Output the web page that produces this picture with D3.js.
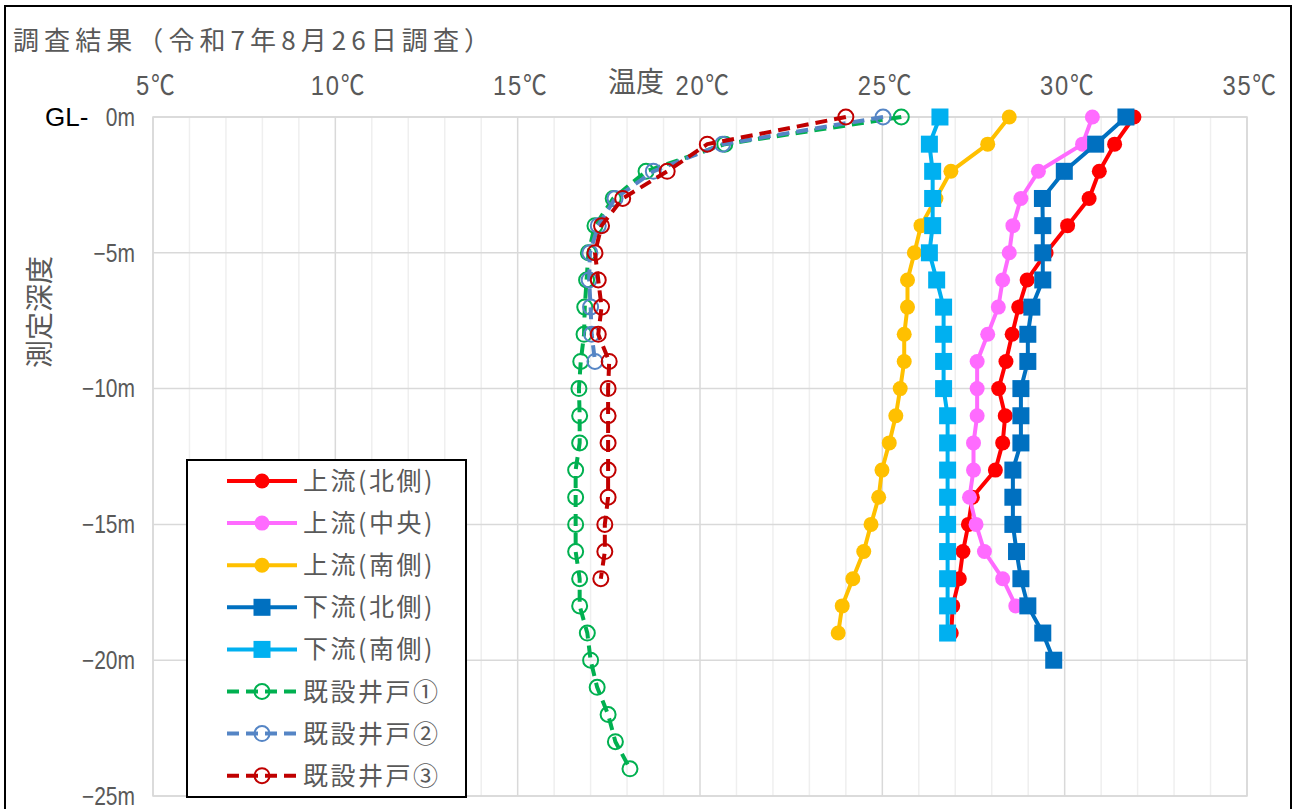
<!DOCTYPE html>
<html lang="ja">
<head>
<meta charset="utf-8">
<script src="https://cdn.jsdelivr.net/npm/d3@7"></script>
<style>
  html, body { margin: 0; padding: 0; background: #fff; }
  svg { display: block; }
  text { font-family: "Noto Sans CJK JP", "Noto Sans", sans-serif; }
  .num { font-family: "Liberation Sans", "Noto Sans CJK JP", sans-serif; }
</style>
</head>
<body>
<svg id="chart" width="1297" height="809"></svg>
<script>
// Temperature profiles, one value per metre of depth starting at GL-0m
const upNorth   = [31.9, 31.37, 30.95, 30.67, 30.08, 29.49, 28.97, 28.74, 28.56, 28.39, 28.19, 28.37, 28.30, 28.10, 27.47, 27.36, 27.21, 27.11, 26.93, 26.89];
const upCenter  = [30.76, 30.49, 29.28, 28.80, 28.58, 28.48, 28.30, 28.18, 27.89, 27.60, 27.60, 27.60, 27.50, 27.50, 27.39, 27.57, 27.80, 28.30, 28.66];
const upSouth   = [28.48, 27.89, 26.88, 26.47, 26.06, 25.88, 25.69, 25.69, 25.60, 25.60, 25.49, 25.37, 25.19, 24.99, 24.90, 24.69, 24.49, 24.19, 23.90, 23.79];
const downNorth = [31.68, 30.85, 29.99, 29.39, 29.40, 29.40, 29.40, 29.10, 28.99, 28.99, 28.80, 28.80, 28.80, 28.58, 28.58, 28.58, 28.68, 28.80, 28.99, 29.40, 29.70];
const downSouth = [26.58, 26.29, 26.38, 26.38, 26.38, 26.29, 26.49, 26.68, 26.68, 26.68, 26.68, 26.79, 26.79, 26.79, 26.79, 26.79, 26.79, 26.79, 26.79, 26.79];
const well1     = [25.52, 20.68, 18.52, 17.62, 17.12, 16.94, 16.89, 16.84, 16.82, 16.73, 16.68, 16.70, 16.70, 16.59, 16.59, 16.59, 16.59, 16.70, 16.70, 16.91, 17.00, 17.18, 17.48, 17.68, 18.08];
const well2     = [25.02, 20.62, 18.72, 17.67, 17.21, 16.98, 16.96, 17.00, 17.03, 17.12];
const well3     = [24.00, 20.20, 19.10, 17.88, 17.30, 17.12, 17.21, 17.30, 17.21, 17.51, 17.48, 17.48, 17.48, 17.48, 17.48, 17.39, 17.39, 17.28];

const seriesNames = ["上流(北側)", "上流(中央)", "上流(南側)", "下流(北側)", "下流(南側)", "既設井戸①", "既設井戸②", "既設井戸③"];
const tempTicks = [5, 10, 15, 20, 25, 30, 35];
const depthTicks = [0, -5, -10, -15, -20, -25];

const series = [
  { name: seriesNames[0], values: upNorth,   color: "#FF0000", marker: "circle", dashed: false },
  { name: seriesNames[1], values: upCenter,  color: "#FF6BFF", marker: "circle", dashed: false },
  { name: seriesNames[2], values: upSouth,   color: "#FFC000", marker: "circle", dashed: false },
  { name: seriesNames[3], values: downNorth, color: "#0070C0", marker: "square", dashed: false },
  { name: seriesNames[4], values: downSouth, color: "#00B0F0", marker: "square", dashed: false },
  { name: seriesNames[5], values: well1,     color: "#00B050", marker: "ring",   dashed: true },
  { name: seriesNames[6], values: well2,     color: "#5585C5", marker: "ring",   dashed: true },
  { name: seriesNames[7], values: well3,     color: "#C00000", marker: "ring",   dashed: true }
];

const svg = d3.select("#chart");
const plot = { left: 153, right: 1247, top: 117, bottom: 796 };

const x = d3.scaleLinear().domain([5, 35]).range([plot.left, plot.right]);
const y = d3.scaleLinear().domain([0, -25]).range([plot.top, plot.bottom]);

// Outer frame
svg.append("rect")
  .attr("x", 5).attr("y", 6).attr("width", 1286).attr("height", 830)
  .attr("fill", "#fff").attr("stroke", "#000").attr("stroke-width", 2);

// Title
svg.append("text")
  .attr("x", 13).attr("y", 50)
  .attr("font-size", 26).attr("fill", "#595959")
  .attr("textLength", 477).attr("lengthAdjust", "spacing")
  .text("調査結果（令和7年8月26日調査）");

// Grid: minor vertical lines every 1℃, major every 5℃, horizontal every 5m
const grid = svg.append("g");
grid.selectAll("line.minor")
  .data(d3.range(6, 35).filter(t => t % 5 !== 0))
  .join("line")
  .attr("x1", d => x(d)).attr("x2", d => x(d))
  .attr("y1", plot.top).attr("y2", plot.bottom)
  .attr("stroke", "#efefef").attr("stroke-width", 1.5);
grid.selectAll("line.vmajor")
  .data(tempTicks)
  .join("line")
  .attr("x1", d => x(d)).attr("x2", d => x(d))
  .attr("y1", plot.top).attr("y2", plot.bottom)
  .attr("stroke", "#d9d9d9").attr("stroke-width", 1.5);
grid.selectAll("line.hmajor")
  .data(depthTicks)
  .join("line")
  .attr("x1", plot.left).attr("x2", plot.right)
  .attr("y1", d => y(d)).attr("y2", d => y(d))
  .attr("stroke", "#d9d9d9").attr("stroke-width", 1.5);

// Temperature axis along the top (narrow, tall numerals)
const xAxis = svg.append("g")
  .attr("transform", `translate(0,${plot.top - 22})`)
  .call(d3.axisTop(x).tickValues(tempTicks).tickSize(0).tickFormat(d => d + "℃"));
xAxis.select(".domain").remove();
xAxis.selectAll("text")
  .attr("class", "num")
  .attr("font-size", 27).attr("fill", "#595959")
  .attr("letter-spacing", 2)
  .attr("x", 3)
  .attr("y", 0).attr("dy", 0)
  .attr("transform", "scale(0.88,1)");

// Depth axis on the left
const yAxis = svg.append("g")
  .attr("transform", `translate(${plot.left - 18},0)`)
  .call(d3.axisLeft(y).tickValues(depthTicks).tickSize(0)
    .tickFormat(d => d === 0 ? "0m" : "\u2212" + Math.abs(d) + "m"));
yAxis.select(".domain").remove();
yAxis.selectAll("text")
  .attr("class", "num")
  .attr("font-size", 25).attr("fill", "#595959")
  .attr("x", 0).attr("dy", "0.33em")
  .attr("transform", "scale(0.84,1)");

svg.append("text")
  .attr("x", 45).attr("y", y(0)).attr("dy", "0.36em")
  .attr("class", "num")
  .attr("font-size", 26).attr("fill", "#000")
  .text("GL-");

// Axis titles
svg.append("text")
  .attr("x", 636).attr("y", 82).attr("dy", "0.36em")
  .attr("text-anchor", "middle")
  .attr("font-size", 28).attr("fill", "#595959")
  .text("温度");
svg.append("text")
  .attr("transform", `translate(40,312) rotate(-90)`)
  .attr("dy", "0.36em")
  .attr("text-anchor", "middle")
  .attr("font-size", 28).attr("fill", "#595959")
  .text("測定深度");

// Plot frame
svg.append("rect")
  .attr("x", plot.left).attr("y", plot.top)
  .attr("width", plot.right - plot.left).attr("height", plot.bottom - plot.top)
  .attr("fill", "none").attr("stroke", "#d9d9d9").attr("stroke-width", 1.5);

// Series: line then markers, in series order
const line = d3.line().x(d => x(d.t)).y(d => y(d.depth));

function drawMarker(g, kind, color, cx, cy) {
  if (kind === "circle") {
    g.append("circle").attr("cx", cx).attr("cy", cy).attr("r", 7.5).attr("fill", color);
  } else if (kind === "square") {
    g.append("rect").attr("x", cx - 8.5).attr("y", cy - 8.5).attr("width", 17).attr("height", 17).attr("fill", color);
  } else {
    g.append("circle").attr("cx", cx).attr("cy", cy).attr("r", 7.5)
      .attr("fill", "none").attr("stroke", color).attr("stroke-width", 2);
  }
}

series.forEach(s => {
  const pts = s.values.map((t, i) => ({ t, depth: -i }));
  const g = svg.append("g");
  g.append("path")
    .attr("d", line(pts))
    .attr("fill", "none")
    .attr("stroke", s.color)
    .attr("stroke-width", 4)
    .attr("stroke-linejoin", "round")
    .attr("stroke-dasharray", s.dashed ? "12,7" : null);
  pts.forEach(p => drawMarker(g, s.marker, s.color, x(p.t), y(p.depth)));
});

// Legend
const legend = svg.append("g");
legend.append("rect")
  .attr("x", 187).attr("y", 460).attr("width", 279).attr("height", 337)
  .attr("fill", "#fff").attr("stroke", "#000").attr("stroke-width", 2);

series.forEach((s, i) => {
  const cy = 481 + i * 42.1;
  const row = legend.append("g");
  row.append("line")
    .attr("x1", 227).attr("x2", 297).attr("y1", cy).attr("y2", cy)
    .attr("stroke", s.color).attr("stroke-width", 4)
    .attr("stroke-dasharray", s.dashed ? "12,7" : null);
  drawMarker(row, s.marker, s.color, 262, cy);
  row.append("text")
    .attr("x", 303).attr("y", cy).attr("dy", "0.36em")
    .attr("font-size", 25).attr("fill", "#595959")
    .attr("letter-spacing", 2.5)
    .text(s.name);
});
</script>
</body>
</html>
